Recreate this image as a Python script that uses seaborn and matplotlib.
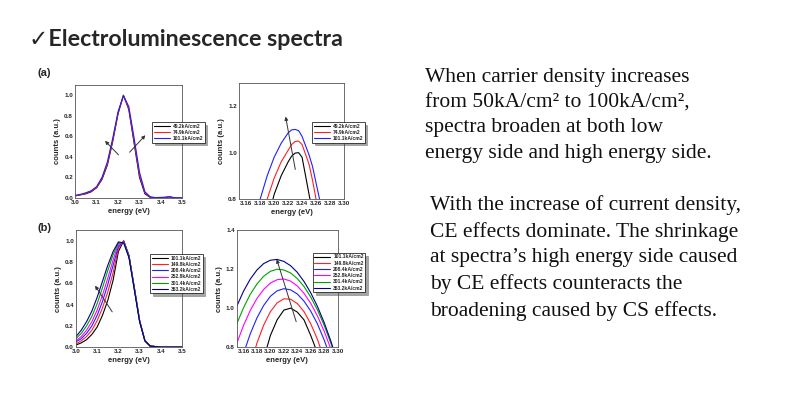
import numpy as np
import pandas as pd
import matplotlib
matplotlib.use("Agg")
import matplotlib.pyplot as plt
import seaborn as sns

# ---------------------------------------------------------
# Data
# ---------------------------------------------------------
# (a) full spectra, 3 current densities
energy_a = [3.0, 3.025, 3.05, 3.075, 3.1, 3.125, 3.15, 3.175, 3.2, 3.225, 3.25,
            3.275, 3.3, 3.325, 3.35, 3.375, 3.4, 3.425, 3.44, 3.45, 3.475, 3.5]
counts_a_49 = [0.02, 0.03, 0.04, 0.06, 0.10, 0.18, 0.32, 0.55, 0.82, 1.0, 0.86,
               0.53, 0.20, 0.04, 0.005, 0.0, 0.0, 0.005, 0.012, 0.005, 0.0, 0.0]
counts_a_75 = [0.02, 0.03, 0.045, 0.065, 0.10, 0.19, 0.33, 0.56, 0.83, 1.0, 0.87,
               0.55, 0.22, 0.05, 0.008, 0.0, 0.002, 0.005, 0.01, 0.005, 0.0, 0.0]
counts_a_101 = [0.025, 0.035, 0.05, 0.07, 0.11, 0.20, 0.35, 0.58, 0.84, 0.995, 0.89,
                0.58, 0.25, 0.06, 0.01, 0.003, 0.005, 0.008, 0.01, 0.006, 0.0, 0.0]
labels_a = ["49.2kA/cm2", "74.9kA/cm2", "101.1kA/cm2"]
colors_a = ["#000000", "#ff2020", "#2020ff"]

# (a) zoom on the peak, curves shifted by 0.05
energy_az = [3.175, 3.18, 3.19, 3.20, 3.21, 3.22, 3.225, 3.23, 3.235, 3.24,
             3.25, 3.255, 3.26, 3.265, 3.27]
zoom_a_49 = [0.55, 0.60, 0.70, 0.82, 0.90, 0.96, 0.985, 0.998, 1.0, 0.98,
             0.82, 0.74, 0.66, 0.58, 0.50]
zoom_a_75 = [0.62, 0.68, 0.80, 0.89, 0.96, 1.01, 1.035, 1.048, 1.05, 1.035,
             0.95, 0.88, 0.80, 0.72, 0.64]
zoom_a_101 = [0.74, 0.80, 0.90, 0.98, 1.04, 1.085, 1.098, 1.10, 1.095, 1.07,
              0.99, 0.94, 0.87, 0.80, 0.72]

# (b) full spectra, 6 current densities
energy_b = [3.0, 3.025, 3.05, 3.075, 3.1, 3.125, 3.15, 3.175, 3.2, 3.225,
            3.25, 3.275, 3.3, 3.325, 3.35, 3.4, 3.5]
counts_b_101 = [0.02, 0.04, 0.07, 0.12, 0.19, 0.30, 0.44, 0.63, 0.90, 1.0,
                0.86, 0.56, 0.25, 0.06, 0.01, 0.0, 0.0]
counts_b_150 = [0.03, 0.06, 0.10, 0.16, 0.25, 0.37, 0.52, 0.70, 0.93, 1.0,
                0.86, 0.56, 0.25, 0.06, 0.01, 0.0, 0.0]
counts_b_208 = [0.05, 0.08, 0.13, 0.20, 0.30, 0.43, 0.59, 0.77, 0.95, 0.995,
                0.86, 0.56, 0.25, 0.06, 0.01, 0.0, 0.0]
counts_b_253 = [0.06, 0.10, 0.16, 0.24, 0.35, 0.49, 0.65, 0.82, 0.97, 0.99,
                0.85, 0.55, 0.25, 0.06, 0.01, 0.0, 0.0]
counts_b_301 = [0.08, 0.13, 0.20, 0.29, 0.41, 0.56, 0.72, 0.87, 0.98, 0.985,
                0.85, 0.55, 0.24, 0.06, 0.01, 0.0, 0.0]
counts_b_353 = [0.10, 0.16, 0.24, 0.34, 0.47, 0.62, 0.77, 0.90, 0.99, 0.98,
                0.84, 0.54, 0.24, 0.06, 0.01, 0.0, 0.0]
labels_b = ["101.1kA/cm2", "149.8kA/cm2", "208.4kA/cm2",
            "252.8kA/cm2", "301.4kA/cm2", "353.2kA/cm2"]
colors_b = ["#000000", "#ff2020", "#2020ff", "#ff00ff", "#00a000", "#00008b"]

# (b) zoom on the peak, curves shifted by 0.05
energy_bz = [3.15, 3.16, 3.17, 3.18, 3.19, 3.20, 3.21, 3.22, 3.23, 3.24,
             3.25, 3.26, 3.27, 3.28, 3.29, 3.30]
zoom_b_101 = [0.05, 0.20, 0.40, 0.58, 0.74, 0.86, 0.94, 0.99, 1.0, 0.98,
              0.94, 0.86, 0.77, 0.65, 0.52, 0.40]
zoom_b_150 = [0.45, 0.58, 0.705, 0.821, 0.913, 0.982, 1.027, 1.048, 1.046, 1.024,
              0.982, 0.92, 0.84, 0.74, 0.63, 0.52]
zoom_b_208 = [0.65, 0.768, 0.868, 0.95, 1.014, 1.061, 1.089, 1.10, 1.094, 1.073,
              1.036, 0.985, 0.919, 0.837, 0.74, 0.63]
zoom_b_253 = [0.82, 0.911, 0.988, 1.05, 1.096, 1.129, 1.146, 1.15, 1.139, 1.114,
              1.076, 1.025, 0.96, 0.882, 0.79, 0.69]
zoom_b_301 = [0.92, 1.002, 1.071, 1.124, 1.164, 1.189, 1.20, 1.196, 1.181, 1.152,
              1.111, 1.057, 0.991, 0.912, 0.82, 0.72]
zoom_b_353 = [1.01, 1.087, 1.149, 1.196, 1.229, 1.246, 1.25, 1.24, 1.218, 1.184,
              1.137, 1.079, 1.009, 0.926, 0.831, 0.72]

title_text = "\u2713Electroluminescence spectra"
note_1 = ("When carrier density increases\n"
          "from 50kA/cm\u00b2 to 100kA/cm\u00b2,\n"
          "spectra broaden at both low\n"
          "energy side and high energy side.")
note_2 = ("With the increase of current density,\n"
          "CE effects dominate. The shrinkage\n"
          "at spectra\u2019s high energy side caused\n"
          "by CE effects counteracts the\n"
          "broadening caused by CS effects.")

# ---------------------------------------------------------
# Plotting
# ---------------------------------------------------------
sns.set_theme(style="white")
plt.rcParams["font.family"] = ["Liberation Sans", "DejaVu Sans"]

fig = plt.figure(figsize=(8, 3.99), dpi=100)


def draw_panel(rect, energy, series, labels, colors, xlim, ylim, xticks, yticks,
               legend_xy, arrows):
    ax = fig.add_axes(rect)
    for vals, lab, col in zip(series, labels, colors):
        df = pd.DataFrame({"energy": energy, "counts": vals})
        sns.lineplot(data=df, x="energy", y="counts", color=col, label=lab,
                     lw=0.8, estimator=None, sort=False, ax=ax)
    ax.set_xlim(*xlim)
    ax.set_ylim(*ylim)
    ax.set_xticks(xticks)
    ax.set_yticks(yticks)
    ax.tick_params(direction="in", length=2, width=0.5, labelsize=4.5, pad=1.5)
    for t in ax.get_xticklabels() + ax.get_yticklabels():
        t.set_fontweight("bold")
    for s in ax.spines.values():
        s.set_color("#555555")
        s.set_linewidth(0.6)
    ax.set_xlabel("energy (eV)", fontsize=5.5, fontweight="bold", labelpad=2)
    ax.set_ylabel("counts (a.u.)", fontsize=5.5, fontweight="bold", labelpad=2)
    leg = ax.legend(loc="upper left", bbox_to_anchor=legend_xy,
                    bbox_transform=fig.transFigure, fontsize=3.6,
                    frameon=True, fancybox=False, shadow=True,
                    edgecolor="black", framealpha=1, handlelength=3.2,
                    labelspacing=0.25, borderpad=0.3, handletextpad=0.6,
                    borderaxespad=0)
    leg.get_frame().set_linewidth(0.5)
    for t in leg.get_texts():
        t.set_fontweight("bold")
    for start, end in arrows:
        ax.annotate("", xy=end, xytext=start,
                    arrowprops=dict(arrowstyle="-|>", color="#333333", lw=0.7,
                                    mutation_scale=5))
    return ax


draw_panel([0.094, 0.504, 0.134, 0.283], energy_a,
           [counts_a_49, counts_a_75, counts_a_101], labels_a, colors_a,
           (3.0, 3.5), (0.0, 1.1), np.arange(3.0, 3.51, 0.1),
           np.arange(0.0, 1.01, 0.2), (0.19, 0.694),
           [((3.211, 0.40), (3.13, 0.575)), ((3.245, 0.425), (3.336, 0.63))])

draw_panel([0.299, 0.501, 0.131, 0.291], energy_az,
           [zoom_a_49, zoom_a_75, zoom_a_101], labels_a, colors_a,
           (3.15, 3.30), (0.8, 1.3), np.arange(3.16, 3.301, 0.02),
           [0.8, 1.0, 1.2], (0.39, 0.694),
           [((3.231, 0.916), (3.2157, 1.167))])

draw_panel([0.095, 0.130, 0.1325, 0.293], energy_b,
           [counts_b_101, counts_b_150, counts_b_208, counts_b_253,
            counts_b_301, counts_b_353], labels_b, colors_b,
           (3.0, 3.5), (0.0, 1.1), np.arange(3.0, 3.51, 0.1),
           np.arange(0.0, 1.01, 0.2), (0.1875, 0.363),
           [((3.178, 0.31), (3.083, 0.60))])

draw_panel([0.296, 0.130, 0.126, 0.293], energy_bz,
           [zoom_b_101, zoom_b_150, zoom_b_208, zoom_b_253, zoom_b_301,
            zoom_b_353], labels_b, colors_b,
           (3.15, 3.30), (0.8, 1.4), np.arange(3.16, 3.301, 0.02),
           [0.8, 1.0, 1.2, 1.4], (0.391, 0.366),
           [((3.2396, 0.917), (3.2082, 1.264))])

# panel tags
fig.text(0.047, 0.81, "(a)", fontsize=8, fontweight="bold")
fig.text(0.047, 0.422, "(b)", fontsize=8, fontweight="bold")

# slide title and notes
fig.text(0.036, 0.9, title_text, fontsize=16.7, fontweight="bold",
         family=["Lato", "DejaVu Sans"], va="center")
fig.text(0.531, 0.83, note_1, fontsize=15.5, family=["Liberation Serif"],
         va="top", linespacing=1.45, color="#111111")
fig.text(0.537, 0.51, note_2, fontsize=15.5, family=["Liberation Serif"],
         va="top", linespacing=1.45, color="#111111")

fig.savefig("out.png", dpi=100, facecolor="white")
